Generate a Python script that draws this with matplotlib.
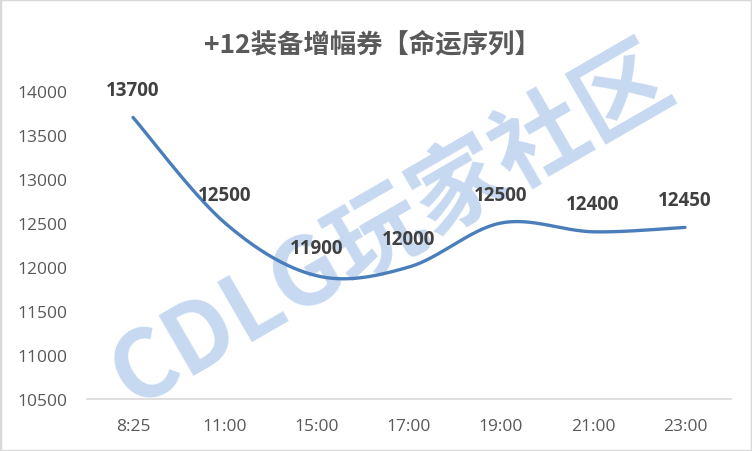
import numpy as np
import matplotlib
matplotlib.use("Agg")
import matplotlib.pyplot as plt
from matplotlib.patches import Rectangle

plt.rcParams['font.family'] = ['Noto Sans CJK SC', 'DejaVu Sans']

title = "+12装备增幅券【命运序列】"
categories = ["8:25", "11:00", "15:00", "17:00", "19:00", "21:00", "23:00"]
values = [13700, 12500, 11900, 12000, 12500, 12400, 12450]
yticks = [10500, 11000, 11500, 12000, 12500, 13000, 13500, 14000]

fig = plt.figure(figsize=(7.52, 4.52), dpi=100)

# watermark (behind everything)
fig.text(392/752, 1 - 226/452, "CDLG玩家社区", ha='center', va='center', rotation=30,
         fontsize=68, fontweight='heavy', color='#c6d9f1', zorder=-5,
         family=['Noto Sans CJK SC', 'DejaVu Sans'])

ax = fig.add_axes([87/752, 52/452, 644/752, 308/452])
ax.set_zorder(2)

# Excel-like smoothed line (Catmull-Rom through the data points)
x = np.arange(len(values), dtype=float)
y = np.array(values, dtype=float)
xs, ys = [], []
n = len(x)
for i in range(n - 1):
    p0 = np.array([x[max(i-1, 0)], y[max(i-1, 0)]])
    p1 = np.array([x[i], y[i]])
    p2 = np.array([x[i+1], y[i+1]])
    p3 = np.array([x[min(i+2, n-1)], y[min(i+2, n-1)]])
    c1 = p1 + (p2 - p0) / 6.0
    c2 = p2 - (p3 - p1) / 6.0
    t = np.linspace(0, 1, 40)[:, None]
    pts = ((1-t)**3)*p1 + 3*((1-t)**2)*t*c1 + 3*(1-t)*(t**2)*c2 + (t**3)*p2
    xs.extend(pts[:, 0]); ys.extend(pts[:, 1])

ax.plot(xs, ys, color='#4a7ebb', lw=2.4, solid_capstyle='round', zorder=3)

for xi, v in zip(x, values):
    ax.annotate(str(v), (xi, v), xytext=(0, 20), textcoords='offset points',
                ha='center', va='center', fontsize=13.5, fontweight='bold',
                color='#404040', family=['Open Sans', 'DejaVu Sans'], zorder=4)

ax.set_xlim(-0.5, n - 0.5)
ax.set_ylim(10500, 14000)
ax.set_xticks(x)
ax.set_xticklabels(categories)
ax.set_yticks(yticks)
ax.set_yticklabels([str(v) for v in yticks])
for lab in ax.get_xticklabels() + ax.get_yticklabels():
    lab.set_family(['Open Sans', 'DejaVu Sans'])
    lab.set_fontsize(12.5)
    lab.set_color('#595959')
ax.tick_params(axis='both', length=0)
ax.tick_params(axis='x', pad=14)
ax.tick_params(axis='y', pad=14)
for s in ['top', 'right', 'left']:
    ax.spines[s].set_visible(False)
ax.spines['bottom'].set_color('#d9d9d9')
ax.spines['bottom'].set_linewidth(1.2)
ax.patch.set_alpha(0)

fig.text(372/752, 1 - 45/452, title, ha='center', va='center', fontsize=19,
         fontweight='bold', color='#595959')

fig.patches.append(Rectangle((0, 0), 1, 1, transform=fig.transFigure, fill=False,
                             edgecolor='#d9d9d9', lw=2.5, zorder=10))

fig.savefig('out.png', dpi=100)
